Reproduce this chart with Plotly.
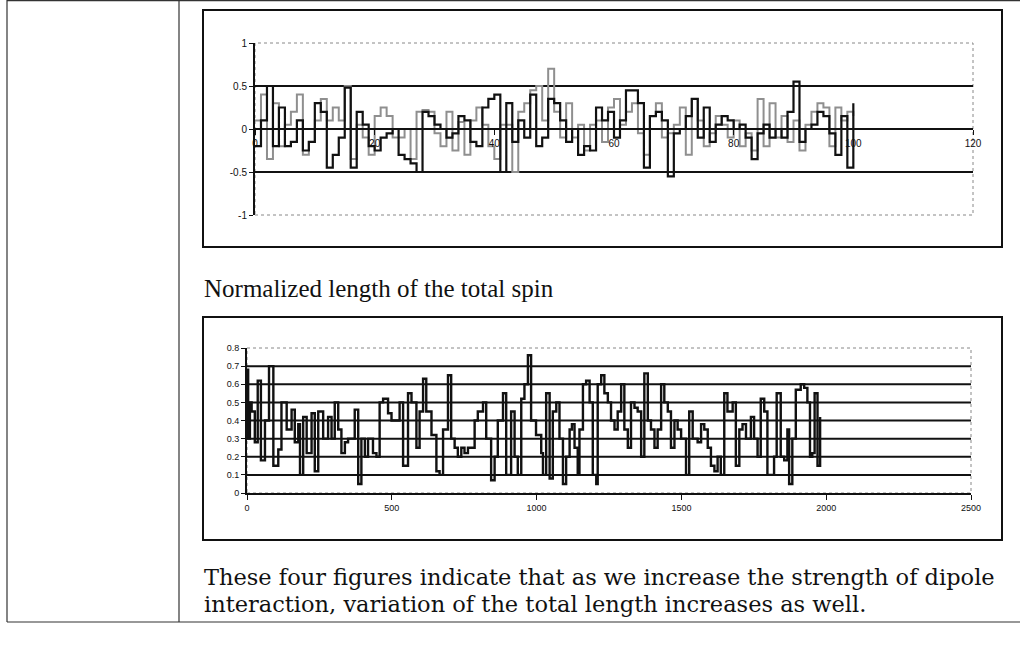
import plotly.graph_objects as go

# ---------------- data ----------------
CH1_X = list(range(101))
CH1_BLACK = [
    -0.20, 0.10, 0.50, -0.20, 0.25, -0.20, -0.15, 0.10, -0.25, -0.15,
    0.30, 0.20, -0.45, -0.30, -0.10, 0.48, -0.45, 0.20, 0.05, -0.20,
    -0.25, -0.10, -0.05, 0.00, -0.30, -0.35, -0.40, -0.50, 0.20, 0.15,
    0.05, 0.00, -0.10, -0.05, 0.15, 0.10, -0.15, -0.20, 0.25, 0.35,
    0.40, -0.50, 0.30, -0.15, 0.10, -0.10, 0.40, -0.20, -0.10, 0.35,
    0.30, 0.10, -0.15, 0.00, -0.30, -0.20, -0.25, 0.25, 0.10, 0.20,
    -0.10, 0.10, 0.45, 0.45, 0.30, -0.45, 0.15, 0.20, 0.10, -0.55,
    -0.05, 0.00, 0.15, 0.35, -0.10, 0.25, -0.15, 0.05, 0.15, 0.10,
    0.00, 0.05, -0.10, -0.35, -0.05, 0.05, -0.10, 0.00, -0.10, 0.20,
    0.55, -0.15, 0.00, 0.05, 0.20, 0.15, -0.05, -0.30, 0.15, -0.45,
    0.30]
CH1_GRAY = [
    0.10, 0.40, -0.35, 0.30, -0.20, 0.05, 0.20, 0.40, -0.30, -0.15,
    0.10, 0.35, 0.10, 0.25, 0.10, 0.50, -0.35, 0.05, -0.10, -0.30,
    0.15, 0.25, 0.15, -0.10, -0.10, 0.00, -0.35, 0.20, 0.22, 0.20,
    -0.05, -0.20, 0.20, -0.25, 0.08, -0.30, 0.10, 0.25, 0.05, -0.20,
    -0.35, 0.05, 0.05, -0.50, 0.20, 0.30, 0.45, 0.50, 0.10, 0.70,
    0.20, -0.10, 0.30, -0.10, 0.05, -0.25, 0.05, 0.10, -0.15, 0.25,
    0.35, 0.05, 0.20, 0.30, -0.05, -0.30, 0.15, 0.30, -0.10, -0.05,
    0.05, 0.25, -0.30, 0.35, 0.10, -0.20, -0.05, 0.15, 0.05, -0.10,
    0.10, -0.20, -0.05, -0.25, 0.35, -0.20, 0.30, -0.10, 0.15, -0.15,
    0.10, -0.25, 0.05, 0.20, 0.30, 0.25, -0.20, 0.25, 0.10, 0.20,
    0.15]
CH1_XTICKS = [0, 20, 40, 60, 80, 100, 120]
CH1_YTICKS = [-1, -0.5, 0, 0.5, 1]
CH1_YLABELS = ["-1", "-0.5", "0", "0.5", "1"]
CH1_GRID = [-0.5, 0.5]

CH2_X = [
    0, 4, 10, 16, 27, 37, 48, 62, 76, 91,
    108, 119, 137, 154, 165, 177, 183, 194, 206, 223,
    234, 246, 263, 280, 292, 303, 315, 326, 338, 349,
    372, 384, 395, 407, 418, 435, 447, 458, 470, 487,
    499, 510, 527, 539, 556, 568, 585, 596, 608, 619,
    637, 654, 665, 677, 694, 705, 717, 728, 740, 751,
    763, 786, 797, 815, 826, 843, 855, 866, 884, 895,
    912, 924, 935, 947, 958, 970, 981, 998, 1016, 1022,
    1033, 1045, 1056, 1068, 1079, 1091, 1102, 1114, 1122, 1131,
    1142, 1148, 1160, 1171, 1183, 1194, 1206, 1211, 1223, 1234,
    1246, 1257, 1269, 1280, 1292, 1303, 1315, 1326, 1338, 1349,
    1361, 1372, 1384, 1395, 1407, 1418, 1430, 1441, 1453, 1464,
    1476, 1487, 1499, 1516, 1527, 1539, 1556, 1568, 1579, 1591,
    1602, 1614, 1625, 1636, 1648, 1659, 1677, 1688, 1700, 1711,
    1723, 1740, 1751, 1763, 1774, 1786, 1797, 1809, 1820, 1829,
    1843, 1855, 1866, 1872, 1883, 1895, 1912, 1924, 1935, 1944,
    1952, 1960, 1970, 1979]
CH2_Y = [
    0.68, 0.30, 0.50, 0.45, 0.28, 0.62, 0.18, 0.40, 0.70, 0.15,
    0.24, 0.50, 0.35, 0.46, 0.28, 0.38, 0.10, 0.42, 0.22, 0.44,
    0.12, 0.45, 0.30, 0.42, 0.30, 0.50, 0.35, 0.22, 0.28, 0.30,
    0.46, 0.05, 0.30, 0.20, 0.30, 0.22, 0.20, 0.50, 0.52, 0.44,
    0.40, 0.40, 0.50, 0.15, 0.55, 0.50, 0.25, 0.45, 0.63, 0.45,
    0.32, 0.12, 0.10, 0.35, 0.65, 0.30, 0.25, 0.20, 0.25, 0.22,
    0.25, 0.40, 0.45, 0.50, 0.30, 0.07, 0.20, 0.40, 0.55, 0.10,
    0.45, 0.20, 0.10, 0.52, 0.60, 0.76, 0.40, 0.32, 0.22, 0.10,
    0.55, 0.08, 0.45, 0.50, 0.30, 0.05, 0.20, 0.35, 0.38, 0.25,
    0.10, 0.35, 0.60, 0.62, 0.50, 0.10, 0.05, 0.60, 0.65, 0.55,
    0.50, 0.40, 0.35, 0.45, 0.60, 0.35, 0.25, 0.50, 0.47, 0.45,
    0.20, 0.66, 0.40, 0.35, 0.25, 0.35, 0.60, 0.50, 0.45, 0.25,
    0.40, 0.35, 0.30, 0.10, 0.45, 0.30, 0.28, 0.38, 0.35, 0.25,
    0.15, 0.12, 0.20, 0.10, 0.55, 0.45, 0.50, 0.15, 0.35, 0.38,
    0.30, 0.42, 0.30, 0.20, 0.52, 0.45, 0.10, 0.10, 0.20, 0.55,
    0.20, 0.18, 0.35, 0.05, 0.30, 0.57, 0.60, 0.58, 0.50, 0.20,
    0.22, 0.55, 0.15, 0.42]
CH2_XTICKS = [0, 500, 1000, 1500, 2000, 2500]
CH2_YTICKS = [0, 0.1, 0.2, 0.3, 0.4, 0.5, 0.6, 0.7, 0.8]
CH2_YLABELS = ["0", "0.1", "0.2", "0.3", "0.4", "0.5", "0.6", "0.7", "0.8"]
CH2_GRID = [0.1, 0.2, 0.3, 0.4, 0.5, 0.6, 0.7]

CAPTION = "Normalized length of the total spin"
BODY_1 = "These four figures indicate that as we increase the strength of dipole"
BODY_2 = "interaction, variation of the total length increases as well."

# ---------------- layout helpers ----------------
W, H = 1020, 653


def px(x):
    return x / W


def py(y):
    return 1 - y / H


fig = go.Figure()

fig.add_trace(go.Scatter(x=CH1_X, y=CH1_GRAY, mode="lines", line_shape="hv",
                         line=dict(color="#8f8f8f", width=2), xaxis="x", yaxis="y",
                         showlegend=False, hoverinfo="skip"))
fig.add_trace(go.Scatter(x=CH1_X, y=CH1_BLACK, mode="lines", line_shape="hv",
                         line=dict(color="#111111", width=2.2), xaxis="x", yaxis="y",
                         showlegend=False, hoverinfo="skip"))
fig.add_trace(go.Scatter(x=CH2_X, y=CH2_Y, mode="lines", line_shape="hv",
                         line=dict(color="#111111", width=2.4), xaxis="x2", yaxis="y2",
                         showlegend=False, hoverinfo="skip"))

tickfont1 = dict(family="Liberation Sans, Arial", size=10, color="#111111")
tickfont2 = dict(family="Liberation Sans, Arial", size=9, color="#111111")

y1_dom = [py(215), py(43)]
y2_dom = [py(493), py(348)]

fig.update_layout(
    template="none",
    width=W, height=H,
    margin=dict(l=0, r=0, t=0, b=0, pad=0, autoexpand=False),
    paper_bgcolor="white", plot_bgcolor="rgba(0,0,0,0)",
    xaxis=dict(domain=[px(255), px(973)], range=[0, 120], anchor="free",
               position=(y1_dom[0] + y1_dom[1]) / 2, automargin=False,
               tickvals=CH1_XTICKS, ticks="outside", ticklen=5, tickcolor="#111",
               showline=True, linecolor="#111", linewidth=2, showgrid=False,
               zeroline=False, tickfont=tickfont1),
    yaxis=dict(domain=y1_dom, range=[-1, 1], anchor="x", automargin=False,
               tickvals=CH1_YTICKS, ticktext=CH1_YLABELS, ticks="outside",
               ticklen=4, tickcolor="#111", showline=True, linecolor="#111",
               linewidth=2, showgrid=False, zeroline=False, tickfont=tickfont1),
    xaxis2=dict(domain=[px(247), px(971)], range=[0, 2500], anchor="y2",
                automargin=False,
                tickvals=CH2_XTICKS, ticks="outside", ticklen=5, tickcolor="#111",
                showline=True, linecolor="#111", linewidth=2, showgrid=False,
                zeroline=False, tickfont=tickfont2),
    yaxis2=dict(domain=y2_dom, range=[0, 0.8], anchor="x2", automargin=False,
                tickvals=CH2_YTICKS, ticktext=CH2_YLABELS, ticks="outside",
                ticklen=4, tickcolor="#111", showline=True, linecolor="#111",
                linewidth=2, showgrid=False, zeroline=False, tickfont=tickfont2),
)

shapes = []
# dotted plot-area borders
shapes.append(dict(type="rect", xref="x domain", yref="y domain", x0=0, x1=1, y0=0, y1=1,
                   line=dict(color="#888", width=1, dash="dot"), layer="below"))
shapes.append(dict(type="rect", xref="x2 domain", yref="y2 domain", x0=0, x1=1, y0=0, y1=1,
                   line=dict(color="#888", width=1, dash="dot"), layer="below"))
# gridlines
for g in CH1_GRID:
    shapes.append(dict(type="line", xref="x domain", yref="y", x0=0, x1=1, y0=g, y1=g,
                       line=dict(color="#111", width=2), layer="below"))
for g in CH2_GRID:
    shapes.append(dict(type="line", xref="x2 domain", yref="y2", x0=0, x1=1, y0=g, y1=g,
                       line=dict(color="#111", width=2), layer="below"))
# chart frames
shapes.append(dict(type="rect", xref="paper", yref="paper", x0=px(203), x1=px(1002),
                   y0=py(247), y1=py(10), line=dict(color="#111", width=2)))
shapes.append(dict(type="rect", xref="paper", yref="paper", x0=px(203), x1=px(1002),
                   y0=py(540), y1=py(317), line=dict(color="#111", width=2)))
# table lines
tl = dict(color="#333", width=1.2)
shapes.append(dict(type="line", xref="paper", yref="paper", x0=px(7), x1=px(7),
                   y0=py(622), y1=py(0), line=tl))
shapes.append(dict(type="line", xref="paper", yref="paper", x0=px(179), x1=px(179),
                   y0=py(622), y1=py(0), line=tl))
shapes.append(dict(type="line", xref="paper", yref="paper", x0=px(7), x1=1,
                   y0=py(622), y1=py(622), line=tl))
shapes.append(dict(type="line", xref="paper", yref="paper", x0=px(7), x1=1,
                   y0=py(0.6), y1=py(0.6), line=tl))
fig.update_layout(shapes=shapes)

serif = "Liberation Serif, Times New Roman, serif"
body_serif = "DejaVu Serif, serif"
fig.add_annotation(text=CAPTION, xref="paper", yref="paper", x=px(202), y=py(288),
                   xanchor="left", yanchor="middle", showarrow=False,
                   font=dict(family=serif, size=25, color="#111"))
fig.add_annotation(text=BODY_1, xref="paper", yref="paper", x=px(202), y=py(577),
                   xanchor="left", yanchor="middle", showarrow=False,
                   font=dict(family=body_serif, size=22.5, color="#111"))
fig.add_annotation(text=BODY_2, xref="paper", yref="paper", x=px(202), y=py(604),
                   xanchor="left", yanchor="middle", showarrow=False,
                   font=dict(family=body_serif, size=22.5, color="#111"))

fig.write_html("out.html")
